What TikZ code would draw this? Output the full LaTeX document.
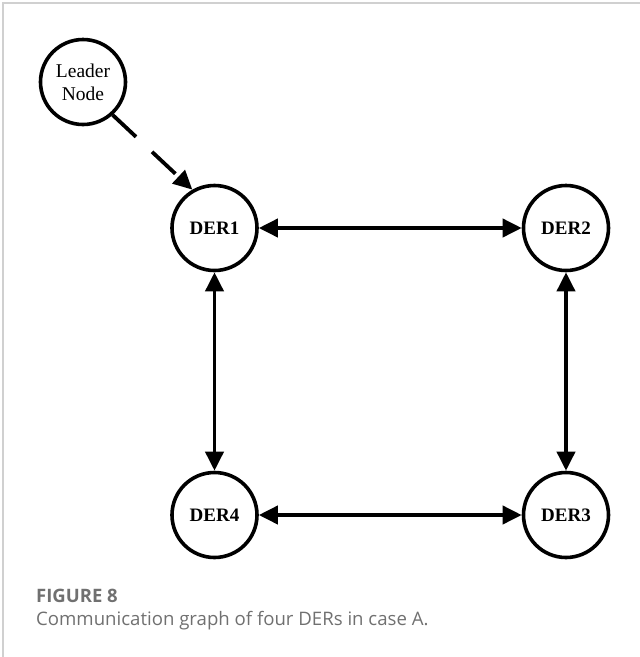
\documentclass[tikz,border=0pt]{standalone}
\usepackage{fontspec}
\setmainfont{Liberation Serif}
\newfontfamily\capfont{Open Sans}
\usetikzlibrary{arrows.meta}
\definecolor{framegray}{HTML}{D0D0D0}
\definecolor{captiongray}{HTML}{707070}
\begin{document}
\begin{tikzpicture}[x=1pt,y=-1pt,
  agent/.style={circle,draw=black,line width=3.6pt,minimum size=85pt,inner sep=0pt,
    font=\fontsize{19}{23}\selectfont\bfseries},
  leader/.style={circle,draw=black,line width=3.6pt,minimum size=85pt,inner sep=0pt,
    align=center,font=\fontsize{19.5}{23}\selectfont},
  link/.style={line width=3.8pt,{Triangle[length=19pt,width=18pt]}-{Triangle[length=19pt,width=18pt]}},
  cmd/.style={line width=3.8pt,dash pattern=on 32pt off 22pt,-{Triangle[length=19pt,width=18pt]}},
  frame/.style={draw=framegray,line width=1.2pt},
  caphead/.style={anchor=base west,inner sep=0pt,text=captiongray,font=\capfont\fontsize{18.5}{22}\selectfont\bfseries},
  captext/.style={anchor=base west,inner sep=0pt,text=captiongray,font=\capfont\fontsize{18.6}{22}\selectfont}]
\useasboundingbox (0,0) rectangle (640,657);
% outer frame (top and left rules)
\draw[frame] (3,657) -- (3,3) -- (640,3);

% nodes
\node[leader] (L) at (83,82) {Leader\\Node};
\node[agent] (D1) at (214.5,228) {DER1};
\node[agent] (D2) at (566,228) {DER2};
\node[agent] (D3) at (566,515) {DER3};
\node[agent] (D4) at (214.5,515) {DER4};

% communication links
\draw[cmd] (L.-48) -- (D1.120);
\draw[link] (D1) -- (D2);
\draw[link] (D2) -- (D3);
\draw[link] (D4) -- (D3);
\draw[link] (D1) -- (D4);

% caption
\node[caphead] (fig) at (36,602) {FIGURE 8};
\node[captext] (cap) at (36,625) {Communication graph of four DERs in case A.};
\end{tikzpicture}
\end{document}
